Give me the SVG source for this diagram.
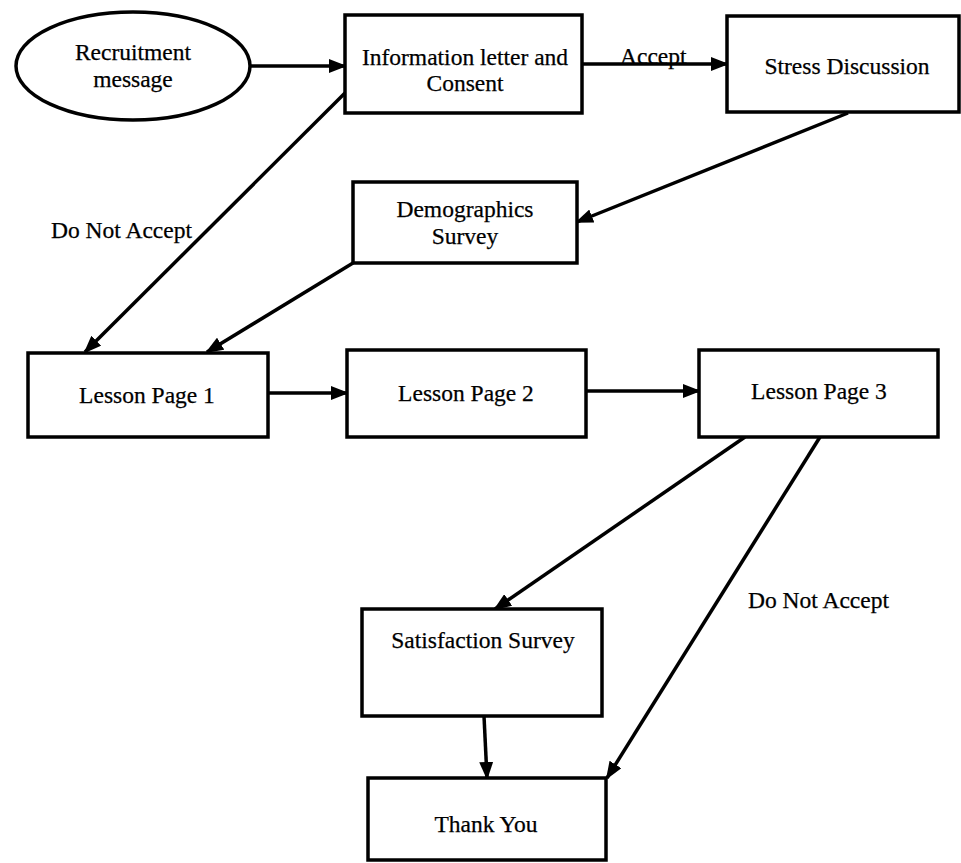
<svg xmlns="http://www.w3.org/2000/svg" width="961" height="863" viewBox="0 0 961 863">
<style>
.node{fill:#fff;stroke:#000;stroke-width:3.5}
.t{font-family:"Liberation Serif","Times New Roman",serif;font-size:23.5px;fill:#000;stroke:#000;stroke-width:0.25;text-anchor:middle}
.lbl{font-family:"Liberation Serif","Times New Roman",serif;font-size:23.5px;fill:#000;stroke:#000;stroke-width:0.25}
.c{fill:none;stroke:#000;stroke-width:3.5;marker-end:url(#ah)}
</style>
<defs>
<marker id="ah" markerUnits="userSpaceOnUse" markerWidth="18" markerHeight="14" refX="16" refY="7" orient="auto">
<path d="M0,0 L18,7 L0,14 Z" fill="#000"/>
</marker>
</defs>
<rect width="961" height="863" fill="#fff"/>
<g id="connectors">
<line class="c" x1="250" y1="66" x2="345" y2="66"/>
<line class="c" x1="582" y1="64" x2="727" y2="64"/>
<line class="c" x1="848" y1="113" x2="577" y2="222"/>
<line class="c" x1="345" y1="93" x2="85" y2="352"/>
<line class="c" x1="353" y1="263" x2="207" y2="352"/>
<line class="c" x1="268" y1="393" x2="347" y2="393"/>
<line class="c" x1="586" y1="391" x2="699" y2="391"/>
<line class="c" x1="745" y1="437" x2="495" y2="609"/>
<line class="c" x1="820" y1="437" x2="607" y2="778"/>
<line class="c" x1="484" y1="716" x2="487" y2="778"/>
<text class="lbl" x="620" y="64">Accept</text>
<text class="lbl" x="51" y="238">Do Not Accept</text>
<text class="lbl" x="748" y="608">Do Not Accept</text>
</g>
<g id="recruitment">
<ellipse class="node" cx="133" cy="66" rx="117" ry="54"/>
<text class="t" x="133" y="60">Recruitment</text>
<text class="t" x="133" y="87">message</text>
</g>
<g id="information">
<rect class="node" x="345" y="15" width="237" height="98"/>
<text class="t" x="465" y="65">Information letter and</text>
<text class="t" x="465" y="91">Consent</text>
</g>
<g id="stress">
<rect class="node" x="727" y="16" width="232" height="96"/>
<text class="t" x="847" y="74">Stress Discussion</text>
</g>
<g id="demographics">
<rect class="node" x="353" y="182" width="224" height="81"/>
<text class="t" x="465" y="217">Demographics</text>
<text class="t" x="465" y="244">Survey</text>
</g>
<g id="lesson1">
<rect class="node" x="28" y="353" width="240" height="84"/>
<text class="t" x="147" y="403">Lesson Page 1</text>
</g>
<g id="lesson2">
<rect class="node" x="347" y="350" width="239" height="87"/>
<text class="t" x="466" y="401">Lesson Page 2</text>
</g>
<g id="lesson3">
<rect class="node" x="699" y="350" width="239" height="87"/>
<text class="t" x="819" y="399">Lesson Page 3</text>
</g>
<g id="satisfaction">
<rect class="node" x="362" y="609" width="240" height="107"/>
<text class="t" x="483" y="648">Satisfaction Survey</text>
</g>
<g id="thankyou">
<rect class="node" x="368" y="778" width="238" height="82"/>
<text class="t" x="486" y="832">Thank You</text>
</g>
</svg>
